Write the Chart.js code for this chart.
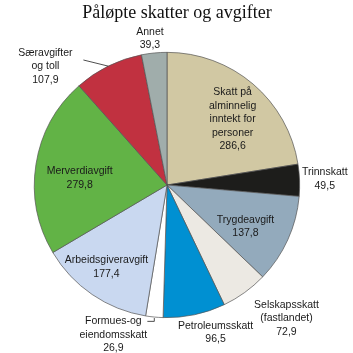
<!DOCTYPE html>
<html>
<head>
<meta charset="utf-8">
<script src="https://cdn.jsdelivr.net/npm/chart.js@4"></script>
<style>
  body { margin: 0; background: #fff; }
  #wrap { width: 353px; height: 353px; }
</style>
</head>
<body>
<div id="wrap"><canvas id="myChart"></canvas></div>
<script>
// data
var categories = [
  "Skatt på alminnelig inntekt for personer",
  "Trinnskatt",
  "Trygdeavgift",
  "Selskapsskatt (fastlandet)",
  "Petroleumsskatt",
  "Formues-og eiendomsskatt",
  "Arbeidsgiveravgift",
  "Merverdiavgift",
  "Særavgifter og toll",
  "Annet"
];
var values = [286.6, 49.5, 137.8, 72.9, 96.5, 26.9, 177.4, 279.8, 107.9, 39.3];
// label text, split into lines (value added below)
var labelLines = [
  ["Skatt på", "alminnelig", "inntekt for", "personer"],
  ["Trinnskatt"],
  ["Trygdeavgift"],
  ["Selskapsskatt", "(fastlandet)"],
  ["Petroleumsskatt"],
  ["Formues-og", "eiendomsskatt"],
  ["Arbeidsgiveravgift"],
  ["Merverdiavgift"],
  ["Særavgifter", "og toll"],
  ["Annet"]
];

var colors = ['#d1c8a3', '#1d1d1b', '#93aabc', '#ece9e3', '#0090d2',
              '#ffffff', '#c9d8f0', '#62b346', '#c13140', '#a0adab'];

// label placement: [radius factor, angle shift in degrees from slice middle]
var labelPlace = [[0.70, 4.5], [1.19, 0], [0.67, 3.6], [1.35, -6], [1.17, -6.3],
                  [1.20, 14.2], [0.77, 2], [0.66, -4.4], [1.28, -19.4], [1.11, -1.1]];

function fmt(v) { return v.toFixed(1).replace('.', ','); }

var pieLabels = {
  id: 'pieLabels',
  afterDraw: function(chart) {
    var ctx = chart.ctx;
    var arcs = chart.getDatasetMeta(0).data;
    ctx.save();
    // title
    ctx.fillStyle = '#111';
    ctx.font = '18px "Liberation Serif", "Times New Roman", serif';
    ctx.textAlign = 'center';
    ctx.textBaseline = 'middle';
    ctx.fillText('Påløpte skatter og avgifter', 177, 13);

    ctx.font = '10.5px "Liberation Sans", Arial, sans-serif';
    ctx.fillStyle = '#1a1a1a';
    var lh = 13.5;
    arcs.forEach(function(arc, i) {
      var p = arc.getProps(['x', 'y', 'startAngle', 'endAngle', 'outerRadius'], true);
      var a = (p.startAngle + p.endAngle) / 2 + labelPlace[i][1] * Math.PI / 180;
      var r = p.outerRadius * labelPlace[i][0];
      var cx = p.x + Math.cos(a) * r;
      var cy = p.y + Math.sin(a) * r;
      var lines = labelLines[i].concat([fmt(values[i])]);
      var y0 = cy - (lines.length - 1) * lh / 2;
      lines.forEach(function(t, k) {
        ctx.fillText(t, cx, y0 + k * lh);
      });
      var mid = (p.startAngle + p.endAngle) / 2;
      var ex = p.x + Math.cos(mid) * p.outerRadius;
      var ey = p.y + Math.sin(mid) * p.outerRadius;
      ctx.strokeStyle = '#222';
      ctx.lineWidth = 0.8;
      if (i === 8) {
        ctx.beginPath();
        ctx.moveTo(cx + 38, y0 + 7);
        ctx.lineTo(ex, ey);
        ctx.stroke();
      }
      if (i === 5) {
        ctx.beginPath();
        ctx.moveTo(cx + 34, y0);
        ctx.lineTo(ex, y0);
        ctx.lineTo(ex, ey + 1);
        ctx.stroke();
      }
    });
    ctx.restore();
  }
};

var ch = document.getElementById("myChart").getContext("2d");
var myChart = new Chart(ch, {
  type: 'pie',
  data: {
    labels: categories,
    datasets: [{
      data: values,
      backgroundColor: colors,
      borderColor: '#555',
      borderWidth: 0.7
    }]
  },
  options: {
    responsive: true,
    maintainAspectRatio: false,
    animation: false,
    layout: { padding: { left: 34, right: 53, top: 52, bottom: 35 } },
    plugins: {
      legend: { display: false },
      tooltip: { enabled: false }
    }
  },
  plugins: [pieLabels]
});
</script>
</body>
</html>
